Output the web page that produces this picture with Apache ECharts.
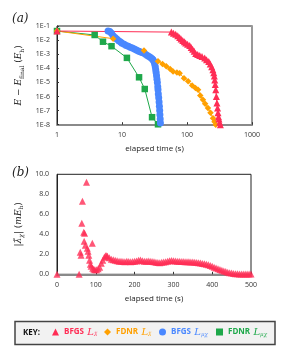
<!DOCTYPE html>
<html><head><meta charset="utf-8">
<script src="https://cdn.jsdelivr.net/npm/echarts@6/dist/echarts.min.js"></script>
<style>html,body{margin:0;padding:0;background:#fff}#c{width:293px;height:361px}</style>
</head><body><div id="c"></div>
<script>
// ---- data ----
const xTickLabelsTop = ['1', '10', '100', '1000'];
const yTickLabelsTop = ['1E-8', '1E-7', '1E-6', '1E-5', '1E-4', '1E-3', '1E-2', '1E-1'];

const redTime = [1, 57.5, 62, 67, 72, 77, 81, 86, 91, 95.5, 102, 110, 116, 122, 129, 136, 146, 157, 170, 187, 200, 216, 228, 240, 250, 258, 263, 267, 272, 277, 283, 289, 295, 300, 305, 310, 318, 326];
const redErr = [0.044, 0.037, 0.031, 0.026, 0.02, 0.0156, 0.012, 0.0095, 0.0075, 0.0063, 0.005, 0.0042, 0.003, 0.0022, 0.0016, 0.0011, 0.00095, 0.00081, 0.00068, 0.00054, 0.0004, 0.0003, 0.0002, 0.00013, 0.00008, 0.000049, 0.000028, 0.000015, 0.000007, 0.000003, 0.000001, 0.00000034, 0.00000015, 0.00000007, 0.000000037, 0.000000025, 0.000000015, 0.00000001];

const orangeTime = [1, 7.3, 21.8, 35.8, 42, 48, 55, 61, 70, 77, 90, 104, 120, 135, 148, 160, 176, 190, 210, 230, 251, 265, 277];
const orangeErr = [0.044, 0.0126, 0.0018, 0.00032, 0.0002, 0.00014, 0.00009, 0.00006, 0.00005, 0.000045, 0.00002, 0.000012, 0.000006, 0.000004, 0.000003, 0.0000012, 0.0000006, 0.0000003, 0.00000015, 0.00000007, 0.000000029, 0.000000016, 0.00000001];

const blueTime = [6.1, 6.5, 6.9, 7.3, 7.8, 8.3, 8.9, 9.5, 10, 10.8, 11.6, 12.5, 13.4, 14.4, 15.5, 16.6, 17.8, 19, 20.3, 21.5, 23, 24.5, 26, 27.5, 29, 30, 31, 31.8, 32.5, 33, 33.5, 34, 34.5, 35, 35.5, 35.8, 36.2, 36.7, 37.2, 37.6, 38, 38.3, 38.7, 39];
const blueErr = [0.044, 0.04, 0.03, 0.02, 0.015, 0.012, 0.009, 0.0072, 0.006, 0.005, 0.0042, 0.0036, 0.0031, 0.0027, 0.0023, 0.002, 0.0017, 0.0015, 0.0013, 0.0012, 0.001, 0.0008, 0.00068, 0.00058, 0.00048, 0.0004, 0.0003, 0.0002, 0.00013, 0.00008, 0.00005, 0.00003, 0.000017, 0.00001, 0.000005, 0.000003, 0.0000015, 0.0000008, 0.0000004, 0.0000002, 0.0000001, 0.00000005, 0.000000025, 0.000000013];

const greenTime = [1, 3.8, 5.1, 6.9, 11.9, 18.3, 22.4, 29, 35.8];
const greenErr = [0.044, 0.023, 0.0077, 0.0037, 0.00055, 0.000023, 0.0000034, 0.000000034, 0.0000000107];

const xTickLabelsBottom = ['0', '100', '200', '300', '400', '500'];
const yTickLabelsBottom = ['0.0', '2.0', '4.0', '6.0', '8.0', '10.0'];
const lamTime = [0, 57, 60, 62, 64, 65.5, 69, 70, 71, 73, 76, 78, 80, 82, 84, 86, 88, 91, 92, 95, 98, 102, 106, 110, 114, 118, 122, 125, 128,
  130, 135, 140, 145, 150, 155, 160, 165, 170, 175, 180, 185, 190, 195, 200, 205, 210, 215, 220, 225, 230, 235, 240, 245, 250, 255, 260, 265, 270, 275, 280, 285, 290, 295, 300, 305, 310, 315, 320, 325, 330, 335, 340, 345, 350, 355, 360, 365, 370, 375, 380, 385, 390, 395, 400, 405, 410, 415, 420, 425, 430, 435, 440, 445, 450, 455, 460, 465, 470, 475, 480, 485, 490, 495, 500];
const lamVal = [0, 0, 2.2, 1.9, 5.1, 7.3, 4.2, 3.3, 4.1, 2.9, 9.2, 2.6, 2.3, 1.9, 1.4, 1.0, 0.8, 3.1, 0.6, 0.5, 0.45, 0.45, 0.55, 0.7, 1.1, 1.4, 1.7, 1.85, 1.85,
  1.8, 1.65, 1.5, 1.45, 1.4, 1.35, 1.3, 1.3, 1.28, 1.25, 1.3, 1.28, 1.25, 1.27, 1.3, 1.32, 1.4, 1.42, 1.35, 1.3, 1.3, 1.32, 1.3, 1.28, 1.25, 1.2, 1.18, 1.15, 1.2, 1.22, 1.25, 1.3, 1.35, 1.38, 1.35, 1.32, 1.3, 1.3, 1.28, 1.27, 1.26, 1.25, 1.25, 1.24, 1.22, 1.2, 1.18, 1.15, 1.12, 1.08, 1.05, 1.0, 0.95, 0.88, 0.8, 0.7, 0.62, 0.55, 0.48, 0.4, 0.33, 0.27, 0.2, 0.15, 0.12, 0.09, 0.06, 0.05, 0.04, 0.04, 0.03, 0.03, 0.02, 0.02, 0.02];

// ---- styling ----
const RED = '#ff2d55', ORANGE = '#ffa000', BLUE = '#4a88ff', GREEN = '#1ea84a';
const zip = (a, b) => a.map((v, i) => [v, b[i]]);
const SANS = 'Open Sans';
const NARROW = '"Liberation Sans Narrow", "Open Sans"';
const SERIF = 'DejaVu Serif';
const tickFont = { fontFamily: SANS, fontSize: 7, color: '#333' };

const nameRich = {
  i: { fontFamily: SERIF, fontStyle: 'italic', fontSize: 9, color: '#222', lineHeight: 12 },
  r: { fontFamily: SERIF, fontSize: 9, color: '#222', lineHeight: 12 },
  s: { fontFamily: SERIF, fontSize: 6, color: '#222', verticalAlign: 'bottom', lineHeight: 8 },
  si: { fontFamily: SERIF, fontStyle: 'italic', fontSize: 6, color: '#222', verticalAlign: 'bottom', lineHeight: 8 }
};

const legRich = {
  b: { fontFamily: NARROW, fontWeight: 'bold', fontSize: 8, lineHeight: 12 },
  g: { fontSize: 6, lineHeight: 12 },
  l: { fontFamily: SERIF, fontStyle: 'italic', fontSize: 10, lineHeight: 12 },
  s: { fontFamily: SERIF, fontStyle: 'italic', fontSize: 5.5, verticalAlign: 'bottom', lineHeight: 8 }
};
function mkLegend(name, color, icon, left, label, sub) {
  return {
    data: [{ name: name, icon: icon }], left: left, top: 327, itemWidth: 7, itemHeight: 7, itemGap: 0,
    padding: 0, selectedMode: false,
    textStyle: { color: color, rich: legRich },
    formatter: () => '{b|' + label + '}{g|  }{l|L}{s|' + sub + '}'
  };
}

const chart = echarts.init(document.getElementById('c'), null, { renderer: 'canvas' });
chart.setOption({
  animation: false,
  backgroundColor: '#fff',
  grid: [
    { left: 57, top: 26, width: 195, height: 98.7, show: true, borderColor: '#222', borderWidth: 1 },
    { left: 57, top: 174.3, width: 194, height: 100, show: true, borderColor: '#222', borderWidth: 1 }
  ],
  xAxis: [
    { gridIndex: 0, type: 'log', logBase: 10, min: 1, max: 1000, splitNumber: 3,
      name: 'elapsed time (s)', nameLocation: 'middle', nameGap: 20,
      nameTextStyle: { fontFamily: SANS, fontSize: 8, color: '#222' },
      axisLine: { lineStyle: { color: '#8a8a8a', width: 2 } },
      axisTick: { inside: true, length: 2.5, lineStyle: { color: '#333' } },
      axisLabel: Object.assign({ margin: 7, formatter: (v) => xTickLabelsTop[Math.round(Math.log10(v))] }, tickFont),
      splitLine: { show: false }, minorTick: { show: false } },
    { gridIndex: 1, type: 'value', min: 0, max: 500, interval: 100,
      name: 'elapsed time (s)', nameLocation: 'middle', nameGap: 20,
      nameTextStyle: { fontFamily: SANS, fontSize: 8, color: '#222' },
      axisLine: { lineStyle: { color: '#8a8a8a', width: 2 } },
      axisTick: { inside: true, length: 2.5, lineStyle: { color: '#333' } },
      axisLabel: Object.assign({ margin: 7, formatter: (v) => xTickLabelsBottom[Math.round(v / 100)] }, tickFont),
      splitLine: { show: false } }
  ],
  yAxis: [
    { gridIndex: 0, type: 'log', logBase: 10, min: 1e-8, max: 1e-1, splitNumber: 7,
      name: '{i|E}{r| − }{i|E}{s|final}{r| (}{i|E}{s|h}{r|)}', nameLocation: 'middle', nameGap: 29,
      nameTextStyle: { rich: nameRich },
      axisLine: { lineStyle: { color: '#222', width: 1 } },
      axisTick: { inside: true, length: 2, lineStyle: { color: '#333' } },
      axisLabel: Object.assign({ margin: 7, formatter: (v) => yTickLabelsTop[Math.round(Math.log10(v)) + 8] }, tickFont),
      splitLine: { show: false } },
    { gridIndex: 0, type: 'log', logBase: 10, min: 1e-8, max: 1e-1, position: 'right',
      axisLine: { show: true, lineStyle: { color: '#999', width: 2 } },
      axisTick: { show: false }, axisLabel: { show: false }, splitLine: { show: false } },
    { gridIndex: 1, type: 'value', min: 0, max: 10, interval: 2,
      name: '{r||}{i|λ̃}{si|χ}{r|| (}{i|mE}{s|h}{r|)}', nameLocation: 'middle', nameGap: 29,
      nameTextStyle: { rich: nameRich },
      axisLine: { lineStyle: { color: '#222', width: 1 } },
      axisTick: { show: false },
      axisLabel: Object.assign({ margin: 8, formatter: (v) => yTickLabelsBottom[Math.round(v / 2)] }, tickFont),
      splitLine: { show: false } }
  ],
  legend: [
    mkLegend('FDNR Lμχ', GREEN, 'rect', 216, 'FDNR', 'μχ'),
    mkLegend('BFGS Lμχ', BLUE, 'circle', 159, 'BFGS', 'μχ'),
    mkLegend('FDNR Lλ', ORANGE, 'diamond', 104, 'FDNR', 'λ̃'),
    mkLegend('BFGS Lλ', RED, 'triangle', 52, 'BFGS', 'λ̃')
  ],
  series: [
    { name: 'FDNR Lμχ', type: 'line', xAxisIndex: 0, yAxisIndex: 0, data: zip(greenTime, greenErr), clip: false,
      symbol: 'rect', symbolSize: 6.5, itemStyle: { color: GREEN }, lineStyle: { color: GREEN, width: 1 } },
    { name: 'BFGS Lμχ', type: 'line', xAxisIndex: 0, yAxisIndex: 0, data: zip(blueTime, blueErr), clip: false,
      symbol: 'circle', symbolSize: 7, itemStyle: { color: BLUE }, lineStyle: { color: BLUE, width: 1 } },
    { name: 'FDNR Lλ', type: 'line', xAxisIndex: 0, yAxisIndex: 0, data: zip(orangeTime, orangeErr), clip: false,
      symbol: 'diamond', symbolSize: 6.5, itemStyle: { color: ORANGE }, lineStyle: { color: ORANGE, width: 1 } },
    { name: 'BFGS Lλ', type: 'line', xAxisIndex: 0, yAxisIndex: 0, data: zip(redTime, redErr), clip: false,
      symbol: 'triangle', symbolSize: 7, itemStyle: { color: RED }, lineStyle: { color: RED, width: 1 } },
    { name: 'BFGS Lλ', type: 'scatter', xAxisIndex: 1, yAxisIndex: 2, data: zip(lamTime, lamVal), clip: false,
      symbol: 'triangle', symbolSize: 7, itemStyle: { color: RED } }
  ],
  graphic: [
    { type: 'text', left: 12, top: 13, style: { text: '(a)', font: 'italic 12px "DejaVu Serif"', fill: '#222' } },
    { type: 'text', left: 12, top: 167, style: { text: '(b)', font: 'italic 12px "DejaVu Serif"', fill: '#222' } },
    { type: 'rect', shape: { x: 15, y: 321.5, width: 260, height: 23 }, z: -1,
      style: { fill: '#f2f2f2', stroke: '#444', lineWidth: 1.5 } },
    { type: 'text', left: 23, top: 329, style: { text: 'KEY:', font: 'bold 8px "Liberation Sans Narrow", "Open Sans"', fill: '#111' } }
  ]
});
</script></body></html>
